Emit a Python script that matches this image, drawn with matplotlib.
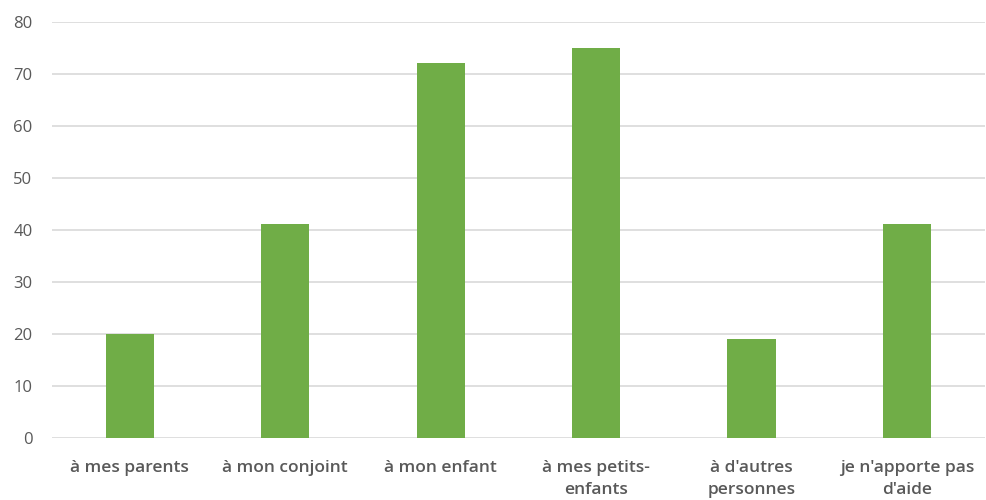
import matplotlib
matplotlib.use("Agg")
import matplotlib.pyplot as plt

categories = ["à mes parents", "à mon conjoint", "à mon enfant",
              "à mes petits-\nenfants", "à d'autres\npersonnes", "je n'apporte pas\nd'aide"]
values = [20, 41, 72, 75, 19, 41]
yticks = [0, 10, 20, 30, 40, 50, 60, 70, 80]

plt.rcParams['font.family'] = ['Open Sans', 'DejaVu Sans']

fig = plt.figure(figsize=(9.86, 5.00), dpi=100)
ax = fig.add_axes([0.0527, 0.1246, 0.946, 0.832])
x = list(range(len(categories)))
ax.bar(x, values, width=0.31, color="#70AD47", zorder=3)
ax.set_xlim(-0.5, len(categories) - 0.5)
ax.set_ylim(0, 80)
ax.set_yticks(yticks)
ax.set_xticks(x)
ax.set_xticklabels(categories, linespacing=1.5)
ax.grid(axis='y', color="#D9D9D9", linewidth=1.2, zorder=0)
for s in ax.spines.values():
    s.set_visible(False)
ax.tick_params(axis='both', length=0, colors="#595959")
ax.tick_params(axis='y', pad=14, labelsize=12)
ax.tick_params(axis='x', pad=16, labelsize=12.5)
for lab in ax.get_xticklabels():
    lab.set_fontweight('semibold')
fig.savefig("out.png", dpi=100)
